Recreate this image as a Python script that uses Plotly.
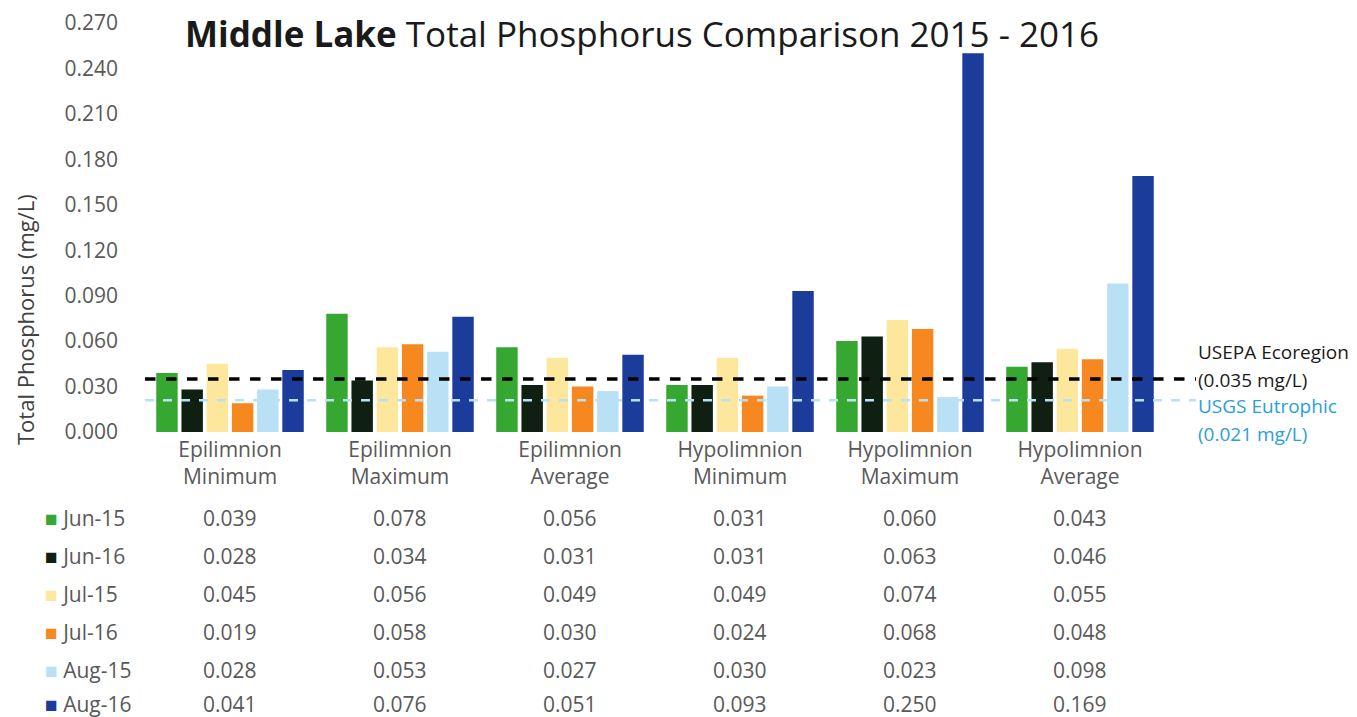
import plotly.graph_objects as go

categories = ["Epilimnion<br>Minimum", "Epilimnion<br>Maximum", "Epilimnion<br>Average",
              "Hypolimnion<br>Minimum", "Hypolimnion<br>Maximum", "Hypolimnion<br>Average"]
series_names = ["Jun-15", "Jun-16", "Jul-15", "Jul-16", "Aug-15", "Aug-16"]
jun15 = [0.039, 0.078, 0.056, 0.031, 0.060, 0.043]
jun16 = [0.028, 0.034, 0.031, 0.031, 0.063, 0.046]
jul15 = [0.045, 0.056, 0.049, 0.049, 0.074, 0.055]
jul16 = [0.019, 0.058, 0.030, 0.024, 0.068, 0.048]
aug15 = [0.028, 0.053, 0.027, 0.030, 0.023, 0.098]
aug16 = [0.041, 0.076, 0.051, 0.093, 0.250, 0.169]
series_values = [jun15, jun16, jul15, jul16, aug15, aug16]
colors = ["#36a832", "#0f1f12", "#fde79c", "#f7871f", "#b9e1f6", "#1c3c9c"]
usepa = 0.035
usgs = 0.021
y_ticks = [0.0, 0.03, 0.06, 0.09, 0.12, 0.15, 0.18, 0.21, 0.24, 0.27]

OFF = 8  # page body margin
W, H = 1357 - OFF, 717 - OFF
L, T = 145 - OFF, 23 - OFF
PW, PH = 1020, 409
R, B = W - L - PW, H - T - PH


def py(ref_pix):
    return 1 - (ref_pix - OFF - T) / PH


def px(ref_pix):
    return (ref_pix - OFF - L) / PW


FONT = "'Open Sans', Lato, sans-serif"
GRAY = "#595959"
FS = 21

fig = go.Figure()
for name, vals, col in zip(series_names, series_values, colors):
    fig.add_trace(go.Bar(x=categories, y=vals, name=name, marker_color=col,
                         marker_line_width=0, showlegend=False))

# reference lines
fig.add_shape(type="line", xref="paper", yref="y", x0=0, x1=px(1196), y0=usgs, y1=usgs,
              line=dict(color="#b9e1f6", width=2.5, dash="dash"))
fig.add_shape(type="line", xref="paper", yref="y", x0=0, x1=px(1196), y0=usepa, y1=usepa,
              line=dict(color="#000000", width=3.5, dash="dash"))

annotations = []
# title
annotations.append(dict(text="<b>Middle Lake</b> Total Phosphorus Comparison 2015 - 2016",
                        xref="paper", yref="paper", x=px(642), y=py(OFF), showarrow=False,
                        xanchor="center", yanchor="top",
                        font=dict(family=FONT, size=35, color="#1a1a1a")))
# y axis title
annotations.append(dict(text="Total Phosphorus (mg/L)", xref="paper", yref="paper",
                        x=px(25), y=py(320), textangle=-90, showarrow=False,
                        xanchor="center", yanchor="middle",
                        font=dict(family=FONT, size=22, color="#404040")))
# right labels
right_labels = [("USEPA Ecoregion", 352, "#1a1a1a"), ("(0.035 mg/L)", 380, "#1a1a1a"),
                ("USGS Eutrophic", 406, "#2aa0d8"), ("(0.021 mg/L)", 434, "#2aa0d8")]
for txt, ypix, col in right_labels:
    annotations.append(dict(text=txt, xref="paper", yref="paper", x=px(1196), y=py(ypix),
                            showarrow=False, xanchor="left", yanchor="middle",
                            font=dict(family=FONT, size=19, color=col)))
# data table
row_y = [518, 556, 594, 632, 670, 704]
for name, vals, col, ypix in zip(series_names, series_values, colors, row_y):
    annotations.append(dict(text=f"<span style='color:{col}'>■</span> {name}",
                            xref="paper", yref="paper", x=px(43), y=py(ypix),
                            showarrow=False, xanchor="left", yanchor="middle",
                            font=dict(family=FONT, size=FS, color=GRAY)))
    for cat, v in zip(categories, vals):
        annotations.append(dict(text=f"{v:.3f}", xref="x", yref="paper", x=cat, y=py(ypix),
                                showarrow=False, xanchor="center", yanchor="middle",
                                font=dict(family=FONT, size=FS, color=GRAY)))

fig.update_layout(
    width=W, height=H,
    margin=dict(l=L, r=R, t=T, b=B, autoexpand=False),
    paper_bgcolor="white", plot_bgcolor="white",
    barmode="group", bargap=0.11, bargroupgap=0.15,
    annotations=annotations,
    font=dict(family=FONT, color=GRAY),
    xaxis=dict(showgrid=False, showline=False, zeroline=False, ticks="",
               tickfont=dict(family=FONT, size=FS, color=GRAY), ticklabelstandoff=3),
    yaxis=dict(range=[0, 0.27], tickvals=y_ticks, tickformat=".3f", showgrid=False,
               zeroline=False, showline=False, ticks="", ticklabeloverflow="allow",
               tickfont=dict(family=FONT, size=FS, color=GRAY), ticklabelstandoff=26),
)

fig.write_html("out.html")
